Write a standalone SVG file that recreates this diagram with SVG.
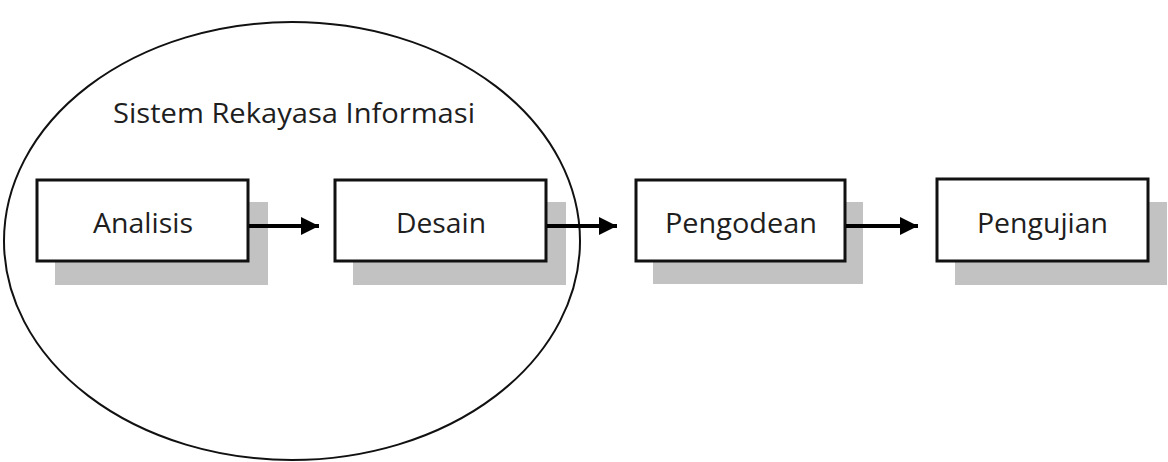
<svg xmlns="http://www.w3.org/2000/svg" width="1168" height="462" viewBox="0 0 1168 462">
<defs>
<style>
.shadow{fill:#c2c2c2;}
.box{fill:#fff;stroke:#111;stroke-width:3;}
.lbl{font-family:"Open Sans","Noto Sans",sans-serif;font-size:28px;fill:#1e1e1e;text-anchor:middle;}
.conn{stroke:#000;stroke-width:4;fill:none;}
</style>
<marker id="ah" viewBox="0 0 10 10" refX="10" refY="5" markerWidth="4.8" markerHeight="4.5" markerUnits="strokeWidth" orient="auto">
<path d="M0,0 L10,5 L0,10 Z" fill="#000"/>
</marker>
</defs>
<rect width="1168" height="462" fill="#fff"/>
<g id="system">
<ellipse cx="292" cy="241" rx="288" ry="219" fill="none" stroke="#111" stroke-width="2"/>
<text x="294" y="123" font-family="'Open Sans','Noto Sans',sans-serif" font-size="28" fill="#1e1e1e" text-anchor="middle" textLength="362" lengthAdjust="spacingAndGlyphs">Sistem Rekayasa Informasi</text>
</g>
<g id="analisis">
<rect class="shadow" x="55" y="202" width="213" height="83"/>
<rect class="box" x="37" y="180" width="211" height="81"/>
<text class="lbl" x="143" y="233" textLength="100" lengthAdjust="spacingAndGlyphs">Analisis</text>
</g>
<g id="desain">
<rect class="shadow" x="353" y="202" width="213" height="83"/>
<rect class="box" x="335" y="180" width="211" height="81"/>
<text class="lbl" x="441" y="233" textLength="90" lengthAdjust="spacingAndGlyphs">Desain</text>
</g>
<g id="pengodean">
<rect class="shadow" x="653" y="202" width="210" height="82"/>
<rect class="box" x="636" y="180" width="209" height="81"/>
<text class="lbl" x="741" y="233" textLength="152" lengthAdjust="spacingAndGlyphs">Pengodean</text>
</g>
<g id="pengujian">
<rect class="shadow" x="955" y="202" width="212" height="83"/>
<rect class="box" x="937" y="179" width="211" height="82"/>
<text class="lbl" x="1042.5" y="233" textLength="131" lengthAdjust="spacingAndGlyphs">Pengujian</text>
</g>
<g id="connectors">
<line class="conn" x1="249" y1="226" x2="319" y2="226" marker-end="url(#ah)"/>
<line class="conn" x1="547" y1="226" x2="617" y2="226" marker-end="url(#ah)"/>
<line class="conn" x1="846" y1="226" x2="918" y2="226" marker-end="url(#ah)"/>
</g>
</svg>
